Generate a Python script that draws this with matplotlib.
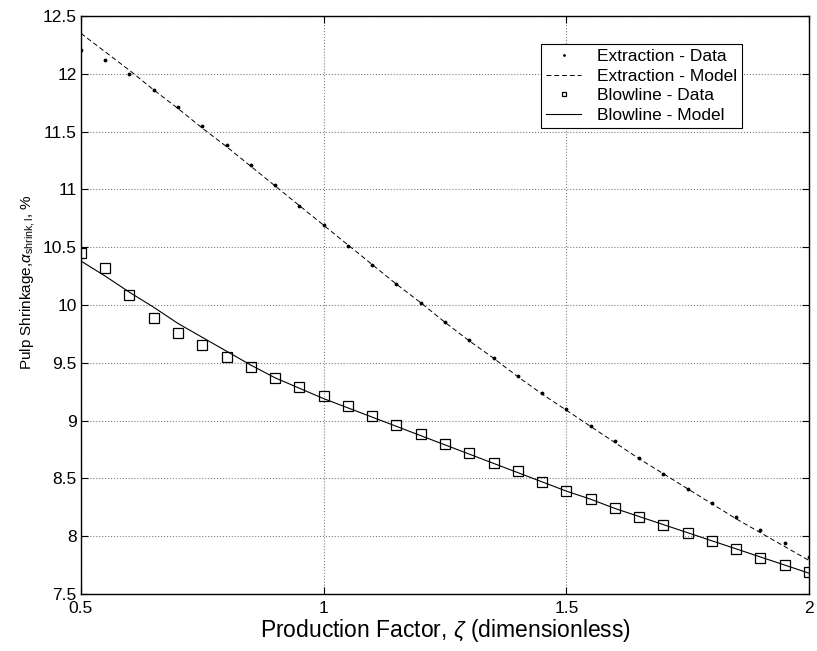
import numpy as np
import matplotlib.pyplot as plt

plt.rcParams['font.family'] = ['Liberation Sans', 'DejaVu Sans']
plt.rcParams['mathtext.fontset'] = 'custom'
plt.rcParams['mathtext.rm'] = 'Liberation Sans'
plt.rcParams['mathtext.it'] = 'Liberation Sans:italic'

# production factor (data points every 0.05)
zeta = [0.50, 0.55, 0.60, 0.65, 0.70, 0.75, 0.80, 0.85, 0.90, 0.95,
        1.00, 1.05, 1.10, 1.15, 1.20, 1.25, 1.30, 1.35, 1.40, 1.45,
        1.50, 1.55, 1.60, 1.65, 1.70, 1.75, 1.80, 1.85, 1.90, 1.95, 2.00]

extraction_data = [12.21, 12.12, 12.00, 11.86, 11.71, 11.55, 11.38, 11.21, 11.04, 10.86,
                   10.69, 10.51, 10.35, 10.18, 10.02, 9.85, 9.70, 9.54, 9.39, 9.24,
                   9.10, 8.95, 8.82, 8.68, 8.54, 8.41, 8.29, 8.17, 8.05, 7.94, 7.82]
extraction_model = [12.35, 12.19, 12.03, 11.86, 11.70, 11.53, 11.37, 11.20, 11.03, 10.86,
                    10.69, 10.52, 10.35, 10.18, 10.02, 9.85, 9.69, 9.54, 9.38, 9.23,
                    9.09, 8.95, 8.81, 8.67, 8.54, 8.41, 8.28, 8.15, 8.03, 7.91, 7.79]

blowline_data = [10.45, 10.32, 10.09, 9.89, 9.76, 9.65, 9.55, 9.46, 9.37, 9.29,
                 9.21, 9.13, 9.04, 8.96, 8.88, 8.80, 8.72, 8.63, 8.56, 8.47,
                 8.39, 8.32, 8.24, 8.17, 8.10, 8.03, 7.96, 7.89, 7.81, 7.75, 7.69]
blowline_model = [10.38, 10.25, 10.11, 9.98, 9.84, 9.72, 9.60, 9.48, 9.37, 9.28,
                  9.19, 9.11, 9.03, 8.95, 8.87, 8.79, 8.71, 8.63, 8.55, 8.47,
                  8.39, 8.32, 8.24, 8.17, 8.10, 8.03, 7.96, 7.89, 7.82, 7.75, 7.68]

xticks = [0.5, 1, 1.5, 2]
xticklabels = ['0.5', '1', '1.5', '2']
yticks = [7.5, 8, 8.5, 9, 9.5, 10, 10.5, 11, 11.5, 12, 12.5]
yticklabels = ['7.5', '8', '8.5', '9', '9.5', '10', '10.5', '11', '11.5', '12', '12.5']

fig = plt.figure(figsize=(8.17, 6.51), dpi=100)
ax = fig.add_axes([0.0991, 0.0876, 0.8911, 0.8878])

ax.plot(zeta, extraction_data, 'k.', markersize=3.5, label='Extraction - Data')
ax.plot(zeta, extraction_model, color='k', linestyle=(0, (5, 3)), linewidth=0.7,
        label='Extraction - Model')
ax.plot(zeta, blowline_data, 's', markerfacecolor='none', markeredgecolor='k',
        markersize=6.5, markeredgewidth=0.9, label='Blowline - Data')
ax.plot(zeta, blowline_model, 'k-', linewidth=0.8, label='Blowline - Model')

ax.set_xlim(0.5, 2)
ax.set_ylim(7.5, 12.5)
ax.set_xticks(xticks)
ax.set_xticklabels(xticklabels)
ax.set_yticks(yticks)
ax.set_yticklabels(yticklabels)
ax.tick_params(direction='in', length=5, labelsize=12.5, top=True, right=True,
               labeltop=False, labelright=False, pad=3)
ax.tick_params(axis='x', pad=5)
ax.grid(True, linestyle=':', color='gray', linewidth=0.8)

for s in ax.spines.values():
    s.set_linewidth(1.0)

ax.set_xlabel(r'Production Factor, $\zeta$ (dimensionless)', fontsize=16.5, labelpad=1)
fig.text(0.034, 0.567, r'Pulp Shrinkage,$\alpha_{\mathrm{shrink,l}}$, %', rotation=90,
         fontsize=11, ha='center', va='center')

leg = ax.legend(loc='upper left', bbox_to_anchor=(0.632, 0.952), fontsize=12.5,
                frameon=True, fancybox=False, edgecolor='k', framealpha=1,
                handlelength=2.0, borderpad=0.3, labelspacing=0.25, handletextpad=0.9,
                borderaxespad=0, markerscale=0.55)
leg.get_frame().set_linewidth(0.8)

fig.savefig('out.png', dpi=100)
